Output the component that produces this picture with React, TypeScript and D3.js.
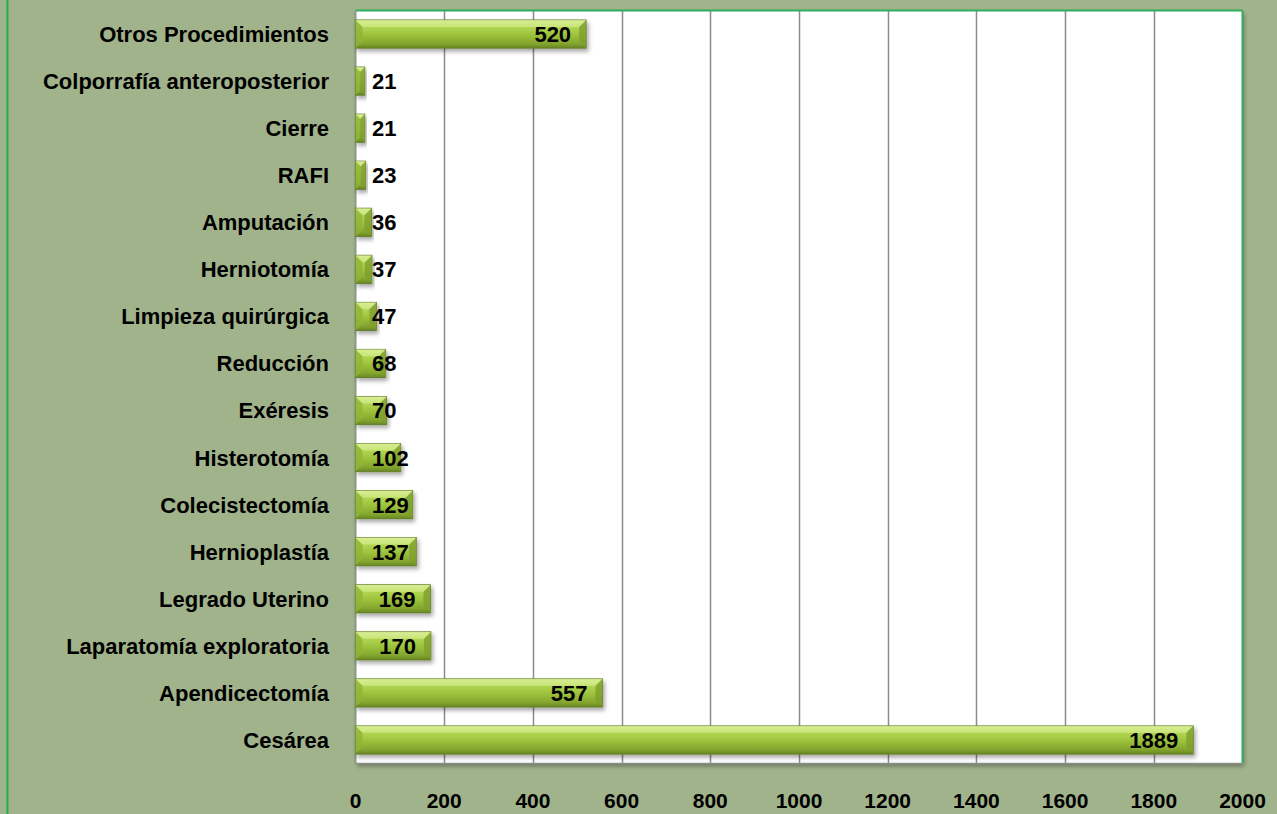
import React, { useEffect, useRef } from 'react';
import * as d3 from 'd3';

const categories = [
  'Otros Procedimientos',
  'Colporrafía anteroposterior',
  'Cierre',
  'RAFI ',
  'Amputación',
  'Herniotomía',
  'Limpieza quirúrgica',
  'Reducción',
  'Exéresis',
  'Histerotomía',
  'Colecistectomía',
  'Hernioplastía',
  'Legrado Uterino',
  'Laparatomía exploratoria',
  'Apendicectomía',
  'Cesárea',
];
const values = [520, 21, 21, 23, 36, 37, 47, 68, 70, 102, 129, 137, 169, 170, 557, 1889];
const xTicks = [0, 200, 400, 600, 800, 1000, 1200, 1400, 1600, 1800, 2000];

const W = 1277;
const H = 814;
const FONT = '"Liberation Sans", Arial, sans-serif';

export default function App() {
  const ref = useRef<SVGSVGElement | null>(null);

  useEffect(() => {
    const svg = d3.select(ref.current);
    svg.selectAll('*').remove();

    const left = 355.5, right = 1242.5, top = 10.5, bottom = 763.5;

    const x = d3.scaleLinear().domain([0, 2000]).range([left, right]);
    const y = d3.scaleBand<string>().domain(categories).range([top, bottom])
      .paddingInner(0.4).paddingOuter(0.2);

    const defs = svg.append('defs');
    const grad = defs.append('linearGradient').attr('id', 'barGrad')
      .attr('x1', 0).attr('y1', 0).attr('x2', 0).attr('y2', 1);
    grad.append('stop').attr('offset', '0%').attr('stop-color', '#d0ea84');
    grad.append('stop').attr('offset', '18%').attr('stop-color', '#b6da58');
    grad.append('stop').attr('offset', '55%').attr('stop-color', '#9bc13a');
    grad.append('stop').attr('offset', '85%').attr('stop-color', '#82a42e');
    grad.append('stop').attr('offset', '100%').attr('stop-color', '#678524');

    const sh = defs.append('filter').attr('id', 'shadow')
      .attr('x', '-5%').attr('y', '-20%').attr('width', '120%').attr('height', '160%');
    sh.append('feDropShadow').attr('dx', 2).attr('dy', 3).attr('stdDeviation', 2)
      .attr('flood-color', '#000').attr('flood-opacity', 0.35);

    const psh = defs.append('filter').attr('id', 'plotShadow')
      .attr('x', '-2%').attr('y', '-2%').attr('width', '104%').attr('height', '104%');
    psh.append('feDropShadow').attr('dx', 2).attr('dy', 3).attr('stdDeviation', 2)
      .attr('flood-color', '#000').attr('flood-opacity', 0.3);

    // background
    svg.append('rect').attr('width', W).attr('height', H).attr('fill', '#a1b38b');
    svg.append('line').attr('x1', 7.5).attr('x2', 7.5).attr('y1', 0).attr('y2', H)
      .style('stroke', '#22b04c').style('stroke-width', 2);

    // plot area
    svg.append('rect')
      .attr('x', left).attr('y', top)
      .attr('width', right - left).attr('height', bottom - top)
      .attr('fill', '#ffffff')
      .attr('filter', 'url(#plotShadow)');

    // gridlines
    svg.append('g').selectAll('line').data(xTicks.slice(1, -1)).join('line')
      .attr('x1', d => Math.round(x(d)) + 0.5).attr('x2', d => Math.round(x(d)) + 0.5)
      .attr('y1', top).attr('y2', bottom)
      .style('stroke', '#8c8c8c').style('stroke-width', 1.5);

    // plot border: green top/right, gray axis left/bottom
    svg.append('line').attr('x1', left).attr('x2', right).attr('y1', top).attr('y2', top)
      .style('stroke', '#2eae5e').style('stroke-width', 2);
    svg.append('line').attr('x1', right).attr('x2', right).attr('y1', top).attr('y2', bottom)
      .style('stroke', '#2eae5e').style('stroke-width', 2);
    svg.append('line').attr('x1', left).attr('x2', left).attr('y1', top).attr('y2', bottom)
      .style('stroke', '#8a9a86').style('stroke-width', 2);
    svg.append('line').attr('x1', left).attr('x2', right).attr('y1', bottom).attr('y2', bottom)
      .style('stroke', '#8c8c8c').style('stroke-width', 1.5);

    // bars
    const bh = y.bandwidth();
    const bars = svg.append('g').selectAll('g').data(categories).join('g');
    bars.append('rect')
      .attr('x', x(0)).attr('y', d => y(d)!)
      .attr('width', (d, i) => x(values[i]) - x(0))
      .attr('height', bh)
      .attr('fill', 'url(#barGrad)')
      .attr('stroke', '#5f7a22').attr('stroke-width', 0.8)
      .attr('filter', 'url(#shadow)');
    // bevel at left end
    const bev = 7;
    bars.append('path')
      .attr('d', (d, i) => {
        const x0 = x(0), y0 = y(d)!, w = x(values[i]) - x(0);
        const b = Math.min(bev, w / 2);
        return `M${x0},${y0} L${x0 + b},${y0 + b} L${x0 + b},${y0 + bh - b} L${x0},${y0 + bh} Z`;
      })
      .attr('fill', '#8fb43a').attr('opacity', 0.8);
    // bevel at right end
    bars.append('path')
      .attr('d', (d, i) => {
        const x1 = x(values[i]), y0 = y(d)!, w = x(values[i]) - x(0);
        const b = Math.min(bev, w / 2);
        return `M${x1},${y0} L${x1 - b},${y0 + b} L${x1 - b},${y0 + bh - b} L${x1},${y0 + bh} Z`;
      })
      .attr('fill', '#7e9e2e').attr('opacity', 0.8);
    // top highlight
    bars.append('path')
      .attr('d', (d, i) => {
        const x0 = x(0), x1 = x(values[i]), y0 = y(d)!, w = x1 - x0;
        const b = Math.min(bev, w / 2);
        return `M${x0},${y0} L${x1},${y0} L${x1 - b},${y0 + b} L${x0 + b},${y0 + b} Z`;
      })
      .attr('fill', '#e2f4a6').attr('opacity', 0.5);

    // data labels
    const labels = svg.append('g').selectAll('text').data(values).join('text')
      .attr('y', (d, i) => y(categories[i])! + bh / 2)
      .attr('dy', '0.36em')
      .attr('text-anchor', 'end')
      .style('font-family', FONT).style('font-weight', 'bold').style('font-size', '22px')
      .style('fill', '#000')
      .text(d => d);
    labels.each(function (d) {
      const t = this as SVGTextElement;
      const w = t.getComputedTextLength();
      d3.select(t).attr('x', Math.max(x(d) - 15, 372 + w));
    });

    // category labels
    svg.append('g').selectAll('text').data(categories).join('text')
      .attr('x', 329)
      .attr('y', d => y(d)! + bh / 2)
      .attr('dy', '0.36em')
      .attr('text-anchor', 'end')
      .style('font-family', FONT).style('font-weight', 'bold').style('font-size', '22px')
      .style('fill', '#000')
      .text(d => d);

    // x tick labels
    svg.append('g').selectAll('text').data(xTicks).join('text')
      .attr('x', d => x(d))
      .attr('y', 800)
      .attr('dy', '0.36em')
      .attr('text-anchor', 'middle')
      .style('font-family', FONT).style('font-weight', 'bold').style('font-size', '21px')
      .style('fill', '#000')
      .text(d => d);
  }, []);

  return (
    <svg ref={ref} width={W} height={H} style={{ display: 'block', position: 'absolute', left: 0, top: 0 }} />
  );
}
